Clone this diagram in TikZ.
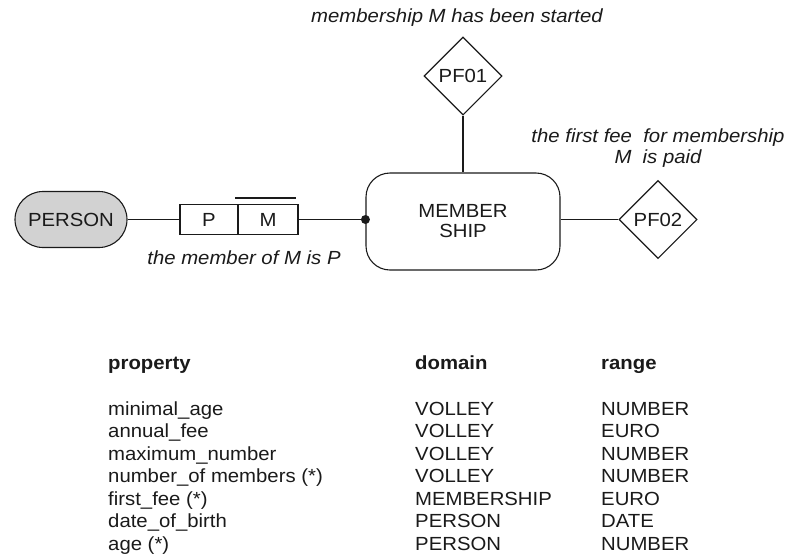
\documentclass[tikz,border=0pt]{standalone}
\usepackage{fontspec}
\setmainfont[FakeStretch=1.07]{Liberation Sans}
\usetikzlibrary{shapes.geometric}
\definecolor{ink}{HTML}{1A1A1A}
\definecolor{shade}{HTML}{D2D2D2}
\begin{document}
\begin{tikzpicture}[x=1pt,y=-1pt,
  every node/.style={text=ink,font=\fontsize{19}{21}\selectfont},
  lnk/.style={draw=ink,line width=1.1pt},
  pill/.style={lnk,fill=shade,rounded corners=28pt,minimum width=112pt,minimum height=56pt,inner sep=0pt},
  cell/.style={lnk,minimum height=30pt,inner sep=0pt},
  entity/.style={lnk,rounded corners=24pt,minimum width=194pt,minimum height=97pt,inner sep=0pt,align=center,font=\fontsize{19}{20}\selectfont},
  fact/.style={lnk,diamond,aspect=1,minimum width=78pt,minimum height=78pt,inner sep=0pt},
  note/.style={font=\fontsize{19}{21}\selectfont\itshape,align=center},
  hdr/.style={anchor=base west,inner sep=0pt,font=\fontsize{19}{21}\selectfont\bfseries},
  cellt/.style={anchor=base west,inner sep=0pt},
  dot/.style={circle,fill=ink,minimum size=9pt,inner sep=0pt}
]
\useasboundingbox (0,0) rectangle (790,555);

% diagram
\node[pill] (person) at (71,219.5) {PERSON};
\node[cell,minimum width=58pt] (p) at (209,219.5) {P};
\node[cell,minimum width=60pt] (m) at (268,219.5) {M};
\draw[lnk] (235,198) -- (296,198);
\node[entity] (ms) at (463,221.5) {MEMBER\\SHIP};
\node[dot] (j) at (ms.west |- m.east) {};
\node[fact] (pf1) at (463,76) {PF01};
\node[fact] (pf2) at (658,219.5) {PF02};

\draw[lnk] (person.east) -- (p.west);
\draw[lnk] (m.east) -- (j.center);
\draw[lnk] (pf1.south) -- (ms.north);
\draw[lnk] (ms.east |- pf2.west) -- (pf2.west);

\node[note] (n1) at (457,18) {membership M has been started};
\node[note] (n2) at (658,148) {the first fee\ \ for membership\\M\ \ is paid};
\node[note] (n3) at (244,258) {the member of M is P};

% property table
\node[hdr] (h1) at (108,369) {property};
\node[hdr] (h2) at (415,369) {domain};
\node[hdr] (h3) at (601,369) {range};

\foreach \y/\a/\b/\c in {
  415/minimal\_age/VOLLEY/NUMBER,
  437/annual\_fee/VOLLEY/EURO,
  460/maximum\_number/VOLLEY/NUMBER,
  482/number\_of members (*)/VOLLEY/NUMBER,
  505/first\_fee (*)/MEMBERSHIP/EURO,
  527/date\_of\_birth/PERSON/DATE,
  550/age (*)/PERSON/NUMBER}{
  \node[cellt] at (108,\y) {\a};
  \node[cellt] at (415,\y) {\b};
  \node[cellt] at (601,\y) {\c};
}
\end{tikzpicture}
\end{document}
